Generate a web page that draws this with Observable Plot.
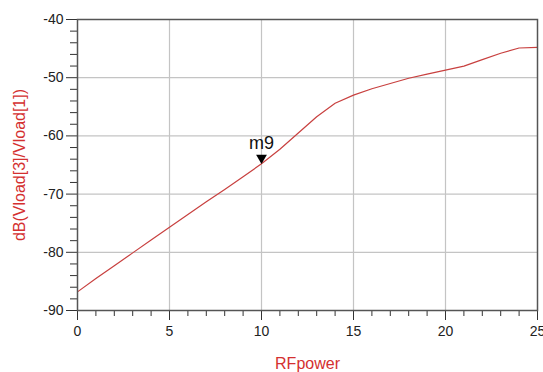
<!DOCTYPE html>
<html>
<head>
<meta charset="utf-8">
<script src="https://cdn.jsdelivr.net/npm/d3@7"></script>
<script src="https://cdn.jsdelivr.net/npm/@observablehq/plot@0.6"></script>
<style>
  html, body { margin: 0; padding: 0; background: white; }
</style>
</head>
<body>
<div id="chart"></div>
<script>
const rfPower = [0,1,2,3,4,5,6,7,8,9,10,11,12,13,14,15,16,17,18,19,20,21,22,23,24,25];
const dbRatio = [-86.8,-84.5,-82.3,-80.1,-77.9,-75.7,-73.5,-71.3,-69.2,-67.0,-64.8,-62.3,-59.5,-56.7,-54.4,-53.0,-51.9,-51.0,-50.1,-49.4,-48.7,-48.0,-46.9,-45.8,-44.9,-44.8];
const xMajor = [0,5,10,15,20,25];
const xMinor = [1,2,3,4,6,7,8,9,11,12,13,14,16,17,18,19,21,22,23,24];
const yMajor = [-90,-80,-70,-60,-50,-40];
const yMinor = [-88,-86,-84,-82,-78,-76,-74,-72,-68,-66,-64,-62,-58,-56,-54,-52,-48,-46,-44,-42];
const xGrid = [5,10,15,20];
const yGrid = [-80,-70,-60,-50];
const marker = [{name: "m9", x: 10, y: -64.8}];
const xLabel = "RFpower";
const yLabel = "dB(Vload[3]/Vload[1])";

const data = rfPower.map((x, i) => ({x, y: dbRatio[i]}));
const red = "#d43030";

const chart = Plot.plot({
  width: 543,
  height: 372,
  marginLeft: 77,
  marginRight: 6,
  marginTop: 19,
  marginBottom: 62,
  style: {fontFamily: "Liberation Sans, Arial, sans-serif", fontSize: "14px", background: "white", color: "#222"},
  x: {domain: [0, 25]},
  y: {domain: [-90, -40]},
  marks: [
    Plot.gridX(xGrid, {stroke: "#c4c4c4", strokeOpacity: 1, strokeWidth: 1.2}),
    Plot.gridY(yGrid, {stroke: "#c4c4c4", strokeOpacity: 1, strokeWidth: 1.2}),
    Plot.axisX(xMinor, {tickSize: 6, tickFormat: () => "", label: null, stroke: "#333"}),
    Plot.axisX(xMajor, {tickSize: 10, tickPadding: 6, fontSize: 14, tickFormat: d => String(d), label: null, stroke: "#333"}),
    Plot.axisY(yMinor, {tickSize: 7, tickFormat: () => "", label: null, stroke: "#333"}),
    Plot.axisY(yMajor, {tickSize: 11, tickPadding: 3, fontSize: 14, tickFormat: d => String(d), label: null, stroke: "#333"}),
    Plot.line(data, {x: "x", y: "y", stroke: "#c8403f", strokeWidth: 1.2}),
    Plot.dot(marker, {x: "x", y: "y", symbol: "triangle", r: 4, rotate: 180, fill: "black", stroke: "none", dy: -6}),
    Plot.text(marker, {x: "x", y: "y", text: "name", fontSize: 18, dy: -21, fill: "#111"}),
    Plot.frame({stroke: "#555", strokeWidth: 1.5}),
    Plot.text([xLabel], {frameAnchor: "bottom", textAnchor: "middle", dy: 58, fontSize: 16, fill: red}),
    Plot.text([yLabel], {frameAnchor: "left", textAnchor: "middle", dx: -58, rotate: -90, fontSize: 16, fill: red})
  ]
});
document.getElementById("chart").appendChild(chart);
</script>
</body>
</html>
